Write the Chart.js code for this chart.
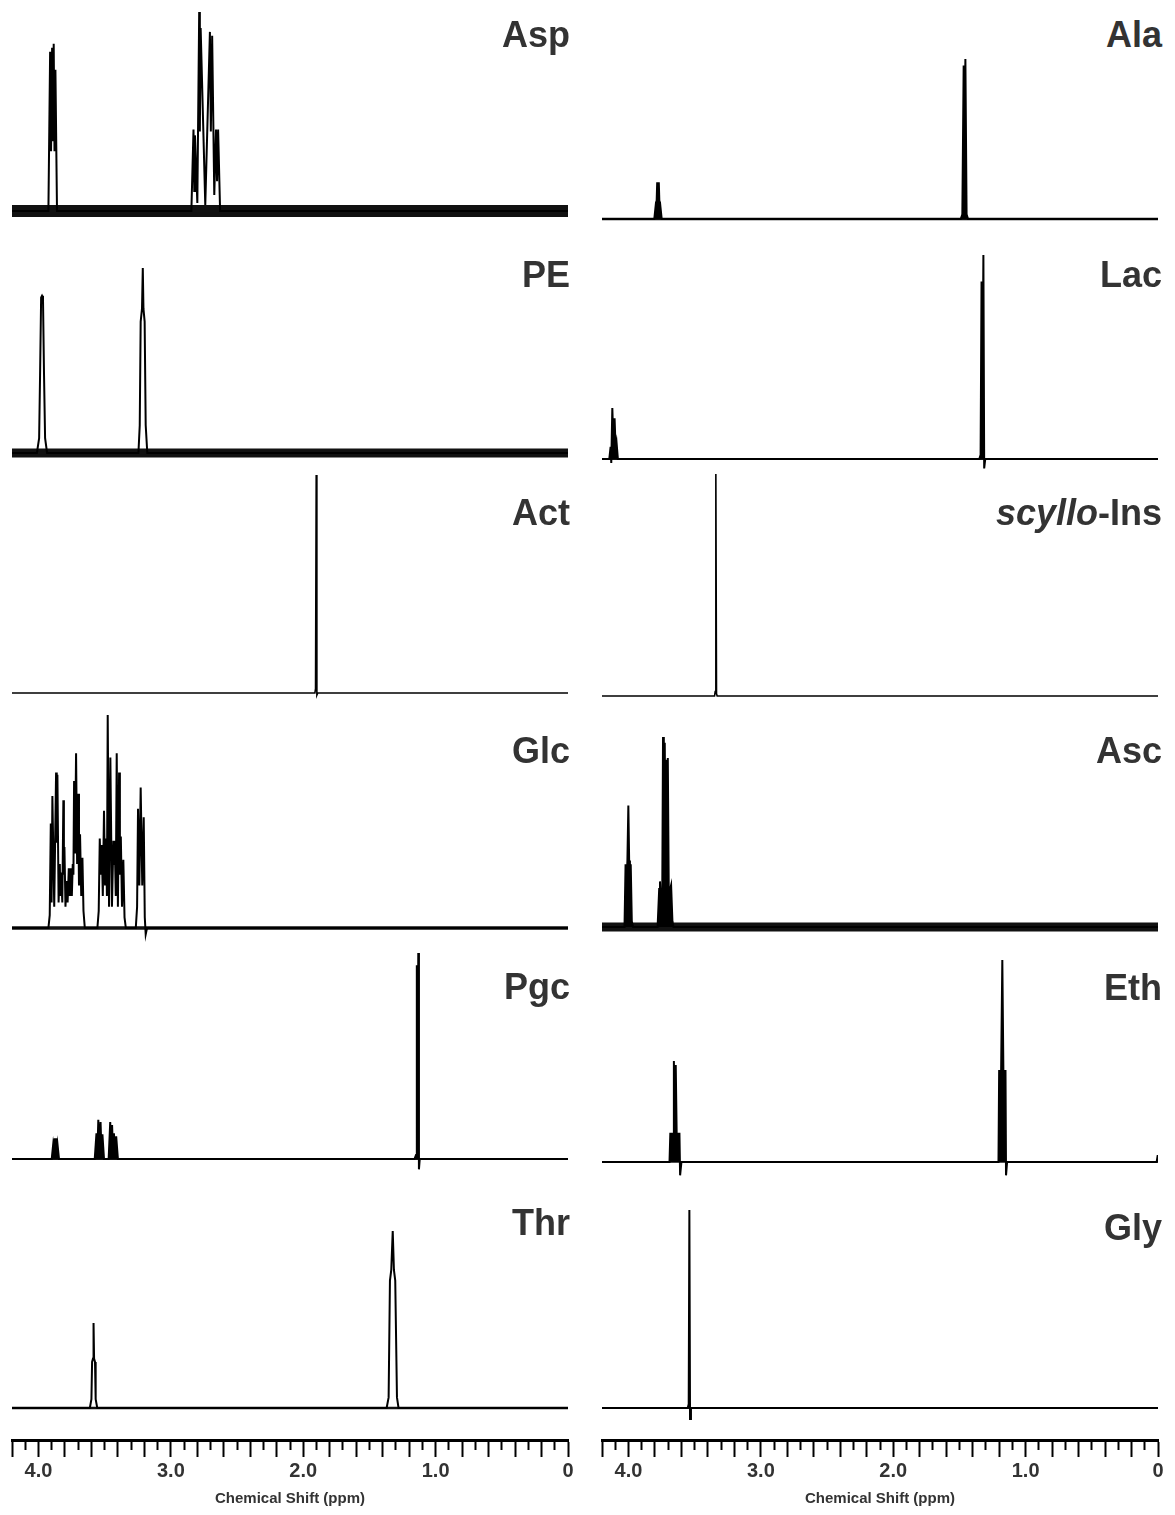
<!DOCTYPE html>
<html>
<head>
<meta charset="utf-8">
<script src="https://cdn.jsdelivr.net/npm/chart.js@4.4.1/dist/chart.umd.min.js"></script>
<style>
  html, body { margin: 0; padding: 0; background: #fff; }
  body { width: 1175px; height: 1515px; position: relative; overflow: hidden;
         font-family: "Liberation Sans", Arial, sans-serif; }
  canvas { position: absolute; display: block; }
  .lbl { position: absolute; font-weight: bold; font-size: 36px; line-height: 36px; height: 36px;
         color: #333; text-align: right; white-space: nowrap; }
</style>
</head>
<body>
<script>
// ---------------- DATA (ppm, intensity in % of the tallest line of each spectrum) ----------------
const ppmRange = [4.2, 0];
const tickLabels = ["4.0", "3.0", "2.0", "1.0", "0"];
const xTitle = "Chemical Shift (ppm)";

const aspPeaks = [[4.2,0],[3.925,0],[3.912,80],[3.905,30],[3.897,82],[3.891,35],[3.885,84],[3.879,30],[3.872,71],[3.86,0],
  [2.845,0],[2.829,41],[2.823,10],[2.818,38],[2.80,4],[2.786,100],[2.781,40],[2.775,92],[2.74,3],
  [2.705,90],[2.698,40],[2.688,88],[2.672,8],[2.659,41],[2.651,15],[2.643,41],[2.628,0],[0,0]];

const pePeaks = [[4.2,0],[4.012,0],[3.995,8],[3.988,42],[3.980,84],[3.973,85],[3.966,84],[3.958,42],[3.950,8],[3.935,0],
  [3.245,0],[3.235,15],[3.228,71],[3.218,78],[3.212,100],[3.207,78],[3.198,71],[3.19,15],[3.178,0],[0,0]];

const actPeaks = [[4.2,0],[1.912,0],[1.907,2],[1.902,100],[1.897,-1],[1.89,0],[0,0]];

const glcPeaks = [[4.2,0],[3.925,0],[3.915,6],[3.907,49],[3.901,12],[3.895,62],[3.881,10],[3.867,73],[3.862,40],[3.857,72],
  [3.848,12],[3.839,30],[3.834,15],[3.829,26],[3.820,12],[3.812,60],[3.808,25],[3.804,38],[3.796,10],[3.789,22],
  [3.780,12],[3.771,28],[3.763,15],[3.756,28],[3.748,15],[3.741,30],[3.736,25],[3.731,69],[3.724,35],[3.716,82],
  [3.708,30],[3.701,63],[3.694,20],[3.686,44],[3.677,15],[3.668,33],[3.660,8],[3.650,0],
  [3.555,0],[3.545,8],[3.537,42],[3.530,25],[3.522,39],[3.514,15],[3.505,55],[3.497,20],[3.489,42],[3.483,15],
  [3.477,100],[3.467,10],[3.457,80],[3.445,10],[3.434,41],[3.429,30],[3.424,41],[3.416,15],[3.409,82],[3.400,10],
  [3.391,73],[3.385,25],[3.378,43],[3.369,10],[3.359,32],[3.350,5],[3.340,0],
  [3.265,0],[3.255,10],[3.248,56],[3.238,20],[3.228,66],[3.216,20],[3.205,52],[3.197,5],[3.190,-3],[3.18,0],[0,0]];

const pgcPeaks = [[4.2,0],[3.90,0],[3.889,7],[3.883,4],[3.878,10],[3.872,6],[3.867,10],[3.861,4],[3.856,7],[3.845,0],
  [3.575,0],[3.562,12.5],[3.555,3],[3.548,19],[3.540,3],[3.531,18],[3.524,3],[3.517,12],[3.505,0],
  [3.47,0],[3.458,18],[3.451,3],[3.444,16.5],[3.437,3],[3.430,12.5],[3.422,3],[3.413,11],[3.40,0],
  [1.16,0],[1.148,2],[1.142,94],[1.137,10],[1.131,100],[1.126,-5],[1.12,0],[0,0]];

const thrPeaks = [[4.2,0],[3.612,0],[3.600,5],[3.595,26],[3.588,28],[3.584,48],[3.580,28],[3.573,26],[3.568,5],[3.556,0],
  [1.37,0],[1.355,6],[1.345,72],[1.335,78],[1.324,100],[1.315,78],[1.305,72],[1.292,6],[1.28,0],[0,0]];

const alaPeaks = [[4.2,0],[3.805,0],[3.795,8],[3.789,6],[3.783,23],[3.777,15],[3.771,23],[3.765,6],[3.759,8],[3.749,0],
  [1.49,0],[1.478,3],[1.468,96],[1.462,45],[1.455,100],[1.446,3],[1.435,0],[0,0]];

const lacPeaks = [[4.2,0],[4.145,0],[4.135,6],[4.130,-2],[4.122,25],[4.114,8],[4.105,20],[4.097,5],[4.09,8],[4.08,0],
  [1.35,0],[1.34,2],[1.333,87],[1.326,30],[1.319,100],[1.313,-4.6],[1.305,0],[0,0]];

const scyPeaks = [[4.2,0],[3.35,0],[3.345,2],[3.340,100],[3.335,1],[3.33,0],[0,0]];

const ascPeaks = [[4.2,0],[4.03,0],[4.022,33],[4.014,25],[4.008,35],[4.001,64],[3.995,35],[3.989,25],[3.983,33],[3.975,3],[3.965,0],
  [3.78,0],[3.768,20],[3.762,24],[3.755,12],[3.745,15],[3.739,100],[3.733,40],[3.726,97],[3.720,40],[3.713,88],
  [3.708,40],[3.703,89],[3.695,12],[3.685,20],[3.678,22],[3.668,3],[3.66,0],[0,0]];

const ethPeaks = [[4.2,0],[3.69,0],[3.684,14],[3.672,14],[3.662,14],[3.657,50],[3.650,14],[3.643,48],[3.636,14],[3.626,14],
  [3.615,14],[3.61,-6.6],[3.60,0],
  [1.205,0],[1.200,45],[1.185,45],[1.176,100],[1.168,45],[1.152,45],[1.148,-6.6],[1.14,0],[0.01,0],[0.003,3],[0,3]];

const glyPeaks = [[4.2,0],[3.552,0],[3.545,2],[3.540,100],[3.535,-5.5],[3.528,0],[0,0]];

// ---------------- LAYOUT / STYLE ----------------
const colX = [12, 602];          // left pixel of the 4.2 ppm end in each column
const colW = 556;                // pixel width of 4.2 ppm
const labelRight = [570, 1162];
// noise: width of the baseline noise band (px)
const panels = [
  {label:'Asp', data:aspPeaks, col:0, top:12,   base:211,  noise:12,  fill:false, lw:2,   lb:47},
  {label:'PE',  data:pePeaks,  col:0, top:268,  base:453,  noise:9,   fill:false, lw:2,   lb:287},
  {label:'Act', data:actPeaks, col:0, top:475,  base:693,  noise:0,   fill:false, lw:1.6, lb:525},
  {label:'Glc', data:glcPeaks, col:0, top:715,  base:928,  noise:3.5, fill:false, lw:2,   lb:763},
  {label:'Pgc', data:pgcPeaks, col:0, top:953,  base:1159, noise:2,   fill:true,  lw:2,   lb:999},
  {label:'Thr', data:thrPeaks, col:0, top:1231, base:1408, noise:2.5, fill:false, lw:2,   lb:1235},
  {label:'Ala', data:alaPeaks, col:1, top:59,   base:219,  noise:2.5, fill:true,  lw:2,   lb:47},
  {label:'Lac', data:lacPeaks, col:1, top:255,  base:459,  noise:2,   fill:true,  lw:2,   lb:287},
  {label:'<i>scyllo</i>-Ins', data:scyPeaks, col:1, top:474, base:696, noise:0, fill:false, lw:1.6, lb:525},
  {label:'Asc', data:ascPeaks, col:1, top:737,  base:927,  noise:9,   fill:true,  lw:2,   lb:763},
  {label:'Eth', data:ethPeaks, col:1, top:960,  base:1162, noise:1.5, fill:true,  lw:2,   lb:1000},
  {label:'Gly', data:glyPeaks, col:1, top:1210, base:1408, noise:2,   fill:false, lw:2,   lb:1240}
];
const PAD_T = 4, PAD_B = 16;

Chart.defaults.font.family = '"Liberation Sans", Arial, sans-serif';
Chart.defaults.color = '#333';

function mkCanvas(left, top, w, h) {
  const c = document.createElement('canvas');
  c.width = w; c.height = h;
  c.style.left = left + 'px'; c.style.top = top + 'px';
  c.style.width = w + 'px'; c.style.height = h + 'px';
  document.body.appendChild(c);
  return c;
}
const baseLine = () => [{x: ppmRange[0], y: 0}, {x: ppmRange[1], y: 0}];

panels.forEach(p => {
  const span = p.base - p.top;
  const cTop = p.top - PAD_T;
  const cH = p.base + PAD_B - cTop;
  const cv = mkCanvas(colX[p.col], cTop, colW, cH);
  const datasets = [{
    data: p.data.map(([x, y]) => ({x, y})),
    borderColor: '#000', backgroundColor: '#000', borderWidth: p.lw,
    pointRadius: 0, tension: 0, fill: p.fill ? 'origin' : false, order: 1,
    borderJoinStyle: 'miter'
  }];
  if (p.noise > 0) {
    datasets.push({data: baseLine(), borderColor: '#111', borderWidth: p.noise,
                   pointRadius: 0, fill: false, order: 2});
  }
  new Chart(cv, {
    type: 'line',
    data: {datasets},
    options: {
      responsive: false, animation: false, events: [],
      layout: {padding: 0},
      plugins: {legend: {display: false}, tooltip: {enabled: false}},
      scales: {
        x: {type: 'linear', min: ppmRange[1], max: ppmRange[0], reverse: true, display: false},
        y: {type: 'linear', min: -100 * PAD_B / span, max: 100 + 100 * PAD_T / span, display: false}
      }
    }
  });
  const d = document.createElement('div');
  d.className = 'lbl';
  d.innerHTML = p.label;
  d.style.right = (1175 - labelRight[p.col]) + 'px';
  d.style.top = (p.lb - 30.5) + 'px';
  document.body.appendChild(d);
});

// ---------------- X AXES ----------------
const AX_TOP = 1440, AX_H = 75, AX_CA = 10, PADL = 10, PADR = 20;
const isLong = v => Math.round(v * 10) % 2 === 0;
const tickText = v => {
  const r = Math.round(v * 10);
  if (r % 10 !== 0) return '';
  return tickLabels[4 - r / 10];
};
[0, 1].forEach(col => {
  const cv = mkCanvas(colX[col] - PADL, AX_TOP - AX_CA, colW + PADL + PADR, 1515 - (AX_TOP - AX_CA));
  new Chart(cv, {
    type: 'line',
    data: {datasets: []},
    options: {
      responsive: false, animation: false, events: [],
      layout: {padding: {left: PADL, right: PADR, top: 0, bottom: 0}},
      plugins: {legend: {display: false}, tooltip: {enabled: false}},
      scales: {
        y: {display: false},
        x: {
          type: 'linear', min: ppmRange[1], max: ppmRange[0], reverse: true, position: 'bottom',
          afterFit: s => { s.height = AX_H; },
          border: {display: true, color: '#000', width: 3},
          grid: {drawOnChartArea: false, drawTicks: true, tickLength: 17, tickWidth: 2, tickColor: '#000',
                 tickBorderDash: ctx => (ctx.tick && isLong(ctx.tick.value)) ? [] : [8, 40]},
          ticks: {stepSize: 0.1, autoSkip: false, maxRotation: 0, minRotation: 0, padding: 2,
                  color: '#333', font: {size: 20, weight: 'bold'}, callback: v => tickText(v)},
          title: {display: true, text: xTitle, color: '#333', font: {size: 15, weight: 'bold'},
                  padding: {top: 2, bottom: 7}}
        }
      }
    }
  });
});
</script>
</body>
</html>
